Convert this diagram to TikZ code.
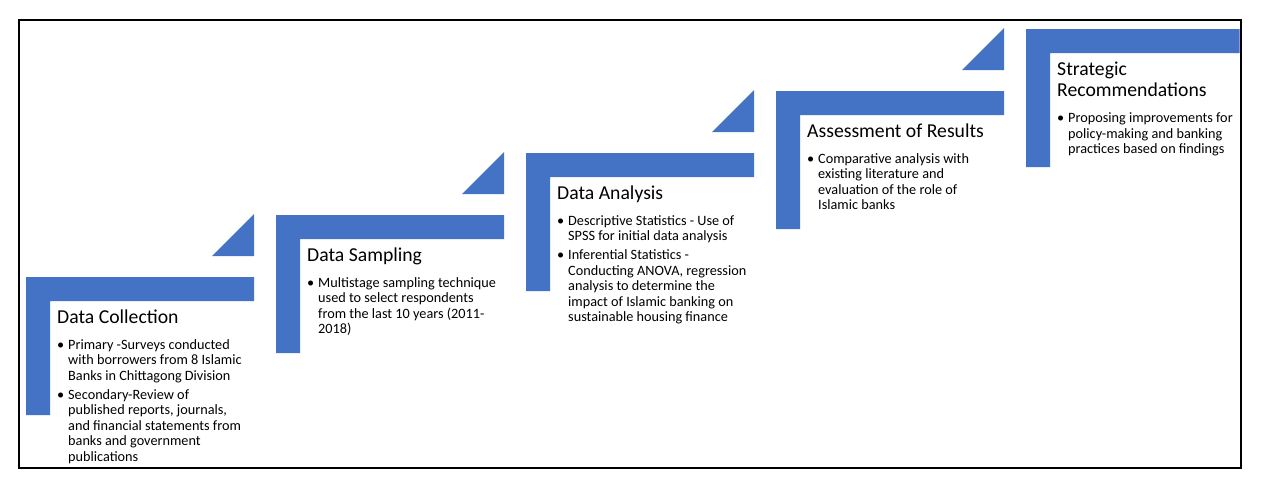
\documentclass[tikz,border=0pt]{standalone}
\usepackage{fontspec}
\setmainfont{Carlito}
\definecolor{stepblue}{HTML}{4472C4}
\tikzset{
  stepfill/.style={fill=stepblue},
  steptitle/.style={anchor=base west, inner sep=0pt, font=\fontsize{19.7}{21.5}\selectfont},
  stepbody/.style={anchor=base west, inner sep=0pt, font=\fontsize{14.25}{15.5}\selectfont},
}
\newcommand{\bul}{\makebox[11pt][l]{\textbullet}}
\newcommand{\ind}{\hspace*{11pt}}
\newcommand{\lines}[1]{\begin{tabular}[t]{@{}l@{}}#1\end{tabular}}
\begin{document}
\begin{tikzpicture}[x=1pt,y=-1pt]
\useasboundingbox (0,0) rectangle (1262,490);
\fill[white] (0,0) rectangle (1262,490);
\draw[line width=2pt] (19,19.5) rectangle (1240.5,468);
\foreach \k in {0,...,4}{
  \pgfmathsetmacro{\xo}{26+250*\k}
  \pgfmathsetmacro{\yt}{277-62*\k}
  \pgfmathsetmacro{\xr}{min(\xo+228,1239.5)}
  \fill[stepfill] (\xo,\yt) -- (\xr,\yt) -- (\xr,\yt+24) -- (\xo+24,\yt+24) -- (\xo+24,\yt+138) -- (\xo,\yt+138) -- cycle;
}
\foreach \k in {0,...,3}{
  \pgfmathsetmacro{\xo}{26+250*\k}
  \pgfmathsetmacro{\yt}{277-62*\k}
  \fill[stepfill] (\xo+228,\yt-63) -- (\xo+228,\yt-21) -- (\xo+186,\yt-21) -- cycle;
}
\node[steptitle] (t1) at (57,323) {Data Collection};
\node[stepbody] (b1) at (57,349) {\lines{\bul Primary -Surveys conducted\\ \ind with borrowers from 8 Islamic\\ \ind Banks in Chittagong Division\\[3.5pt]
 \bul Secondary-Review of\\ \ind published reports, journals,\\ \ind and financial statements from\\ \ind banks and government\\ \ind publications}};
\node[steptitle] (t2) at (307,261) {Data Sampling};
\node[stepbody] (b2) at (307,287) {\lines{\bul Multistage sampling technique\\ \ind used to select respondents\\ \ind from the last 10 years (2011-\\ \ind 2018)}};
\node[steptitle] (t3) at (557,199) {Data Analysis};
\node[stepbody] (b3) at (557,225) {\lines{\bul Descriptive Statistics - Use of\\ \ind SPSS for initial data analysis\\[3.5pt]
 \bul Inferential Statistics -\\ \ind Conducting ANOVA, regression\\ \ind analysis to determine the\\ \ind impact of Islamic banking on\\ \ind sustainable housing finance}};
\node[steptitle] (t4) at (807,137) {Assessment of Results};
\node[stepbody] (b4) at (807,163) {\lines{\bul Comparative analysis with\\ \ind existing literature and\\ \ind evaluation of the role of\\ \ind Islamic banks}};
\node[steptitle] (t5) at (1057,75) {\lines{Strategic\\Recommendations}};
\node[stepbody] (b5) at (1057,122.5) {\lines{\bul Proposing improvements for\\ \ind policy-making and banking\\ \ind practices based on findings}};
\end{tikzpicture}
\end{document}
